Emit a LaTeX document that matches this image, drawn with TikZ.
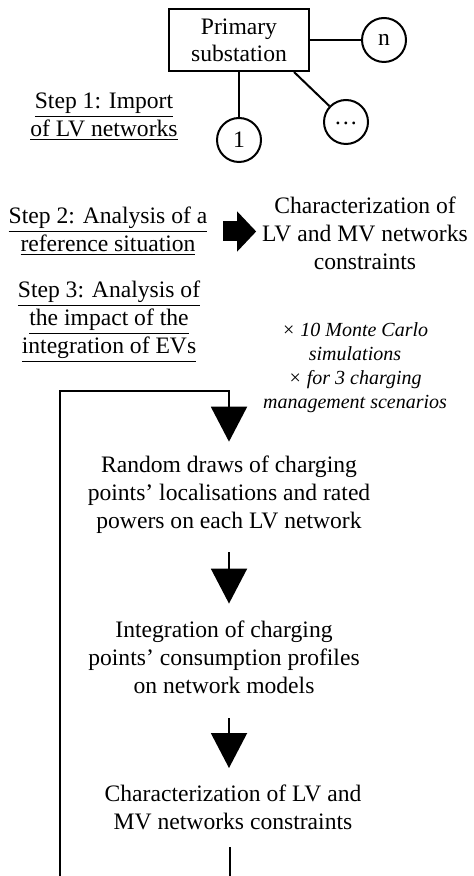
\documentclass[tikz,border=0pt]{standalone}
\usepackage{fontspec}
\setmainfont{Liberation Serif}
\usetikzlibrary{positioning,shapes,arrows.meta}
\def\dx{25.5pt}
\def\dy{22.5pt}
\tikzstyle{sub}=[draw,rectangle,minimum width=70pt,minimum height=31pt,align=center,inner sep=0pt,font=\fontsize{11.8}{13.5}\selectfont]
\tikzstyle{bus}=[draw,circle,minimum size=22pt,inner sep=0pt,font=\fontsize{11.8}{14}\selectfont]
\tikzstyle{txt}=[align=center,inner sep=0pt,font=\fontsize{11.8}{14}\selectfont]
\tikzstyle{note}=[align=center,inner sep=0pt,font=\fontsize{10}{12}\selectfont\itshape]
\tikzstyle{flow}=[-{Triangle[length=17.5pt,width=18pt]},line width=1pt]
\tikzstyle{big}=[-{Triangle[length=9.5pt,width=19.5pt]},line width=10pt]
\newcommand{\ul}[1]{\underline{#1}}

\begin{document}
\begin{tikzpicture}[x=0.5pt,y=-0.5pt,node distance=\dy and \dx,
  line width=1pt
  ]
  \useasboundingbox (0,0) rectangle (474,876);
  % network import
  \node[sub] (ps) at (239,40) {Primary\\substation};
  \node[bus,right=of ps] (bn) {n};
  \node[bus,below=of ps] (b1) {1};
  \node[bus] (bdots) at (346,122) {\raisebox{-0.5ex}{\dots}};
  \draw (ps) -- (bn);
  \draw (ps) -- (b1);
  \draw ([xshift=-8pt]ps.south east) -- (bdots);
  % steps
  \node[txt] (st1) at (104,117) {\ul{Step 1: Import}\\\ul{of LV networks}};
  \node[txt] (st2) at (108,231.5) {\ul{Step 2: Analysis of a}\\\ul{reference situation}};
  \node[txt] (st3) at (109,322) {\ul{Step 3: Analysis of}\\\ul{the impact of the}\\\ul{integration of EVs}};
  \node[txt] (ch) at (365,233.5) {Characterization of\\LV and MV networks\\constraints};
  \draw[big,shorten <=7.5pt,shorten >=2.5pt] (st2.east) -- (st2.east -| ch.west);
  \node[note] (mc) at (355,368) {× 10 Monte Carlo\\simulations\\× for 3 charging\\management scenarios};
  % loop
  \node[txt] (r1) at (229,494.5) {Random draws of charging\\points’ localisations and rated\\powers on each LV network};
  \node[txt] (r2) at (224,657) {Integration of charging\\points’ consumption profiles\\on network models};
  \node[txt] (r3) at (233,807) {Characterization of LV and\\MV networks constraints};
  \coordinate (loopTL) at (60,391);
  \coordinate (loopBL) at (60,876);
  \coordinate (loopBR) at (230,876);
  \draw[flow,shorten >=6.5pt] (loopBL) -- (loopTL) -| (r1.north);
  \draw[flow,shorten <=9pt,shorten >=8pt] (r1.south -| 229,0) -- (r2.north -| 229,0);
  \draw[flow,shorten <=12pt,shorten >=7.75pt] (r2.south -| 229,0) -- (r3.north -| 229,0);
  \draw[shorten <=8.5pt] (r3.south -| loopBR) -- (loopBR);
\end{tikzpicture}
\end{document}
